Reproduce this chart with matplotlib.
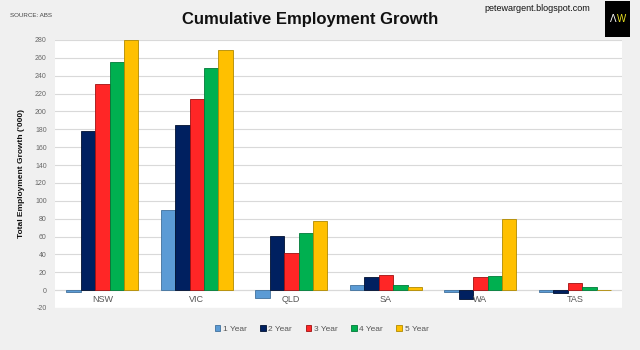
import matplotlib
matplotlib.use("Agg")
import matplotlib.pyplot as plt
import numpy as np
from matplotlib.patches import Rectangle

states = ['NSW', 'VIC', 'QLD', 'SA', 'WA', 'TAS']
series_names = ['1 Year', '2 Year', '3 Year', '4 Year', '5 Year']
year1 = [-2, 90, -9, 6, -2, -2]
year2 = [178, 185, 61, 15, -10, -3]
year3 = [231, 214, 42, 17, 15, 8]
year4 = [255, 248, 64, 6, 16, 4]
year5 = [280, 269, 77, 3, 80, 0.5]
yticks = list(range(-20, 281, 20))

colors = ['#5b9bd5', '#002060', '#ff2626', '#00b050', '#ffc000']
edges = ['#41719c', '#001030', '#a01010', '#007a38', '#b08a00']

plt.rcParams['font.family'] = ['Liberation Sans', 'DejaVu Sans']

fig = plt.figure(figsize=(6.4, 3.5), dpi=100)
fig.patch.set_facecolor('#f0f0f0')
ax = fig.add_axes([0.086, 0.12, 0.886, 0.766])
ax.set_facecolor('white')

x = np.arange(len(states))
w = 0.153
for i, vals in enumerate([year1, year2, year3, year4, year5]):
    ax.bar(x + (i - 2) * w, vals, w, color=colors[i], edgecolor=edges[i],
           linewidth=0.6, label=series_names[i], zorder=3)

ax.set_xlim(-0.5, len(states) - 0.5)
ax.set_ylim(-20, 280)
ax.set_yticks(yticks)
ax.set_yticklabels([str(t) for t in yticks], fontsize=5, color='#666666')
ax.tick_params(axis='y', length=0, pad=6)
ax.set_xticks([])
ax.grid(axis='y', color='#d9d9d9', linewidth=0.8, zorder=0)
ax.axhline(0, color='#d0d0d0', linewidth=0.8, zorder=1)
for s in ax.spines.values():
    s.set_visible(False)

for xi, name in zip(x, states):
    ax.text(xi, -5.5, name, ha='center', va='top', fontsize=6.5, color='#555555')

ax.set_ylabel("Total Employment Growth ('000)", fontsize=6, fontweight='bold',
              color='#111111', labelpad=7)

leg = ax.legend(loc='upper center', bbox_to_anchor=(0.47, -0.035), ncol=5,
                frameon=False, fontsize=6, handlelength=0.7, handleheight=0.7,
                handletextpad=0.3, columnspacing=1.6, labelcolor='#555555')

fig.text(0.485, 0.945, 'Cumulative Employment Growth', ha='center', va='center',
         fontsize=12, fontweight='bold', color='#111111')
fig.text(0.016, 0.957, 'SOURCE: ABS', ha='left', va='center', fontsize=4.5,
         color='#444444')
fig.text(0.922, 0.975, 'petewargent.blogspot.com', ha='right', va='center',
         fontsize=6.5, color='#111111')
fig.patches.append(Rectangle((0.945, 0.894), 0.039, 0.103, transform=fig.transFigure,
                             facecolor='black', edgecolor='none'))
fig.text(0.958, 0.945, 'Λ', ha='center', va='center', fontsize=7, color='white')
fig.text(0.971, 0.945, 'W', ha='center', va='center', fontsize=7, color='#e8e020')

fig.savefig('out.png', dpi=100, facecolor=fig.get_facecolor())
